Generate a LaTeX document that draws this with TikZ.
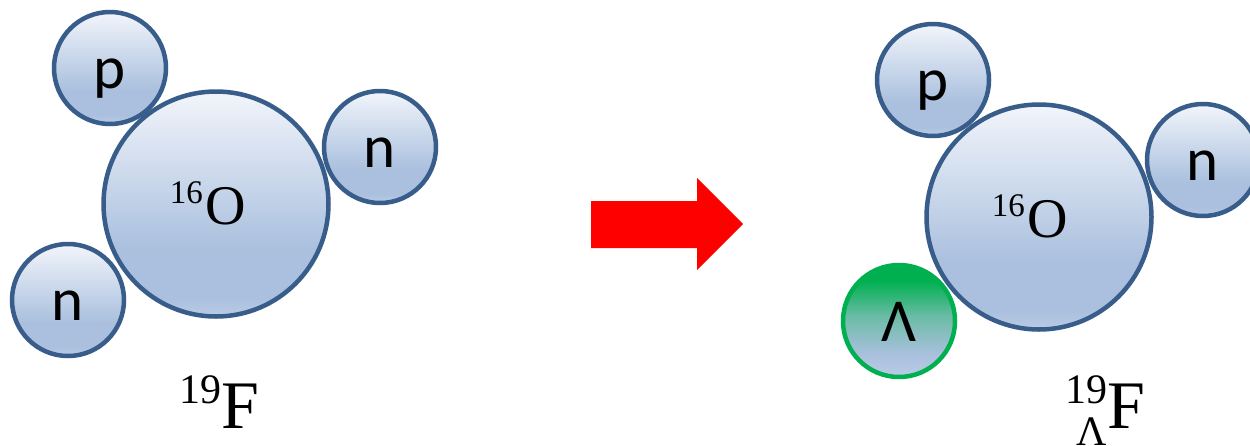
\documentclass[tikz,border=0pt]{standalone}
\usepackage{fontspec}
\setmainfont{Liberation Serif}
\newfontfamily\partfont{Carlito}
\definecolor{edgeblue}{HTML}{385D8A}
\definecolor{btop}{HTML}{F2F5FB}
\definecolor{bmid}{HTML}{CCDAEC}
\definecolor{blow}{HTML}{AAC0DE}
\definecolor{bbot}{HTML}{BACCE5}
\definecolor{lgreen}{HTML}{00B050}
\definecolor{gmid}{HTML}{6CBCA6}
\definecolor{arrowred}{HTML}{FF0000}
\pgfdeclareverticalshading{nucshade}{100bp}{color(0bp)=(bbot); color(25bp)=(bbot); color(29bp)=(blow); color(40bp)=(blow); color(75bp)=(btop); color(100bp)=(btop)}
\pgfdeclareverticalshading{lamshade}{100bp}{color(0bp)=(bbot); color(25bp)=(bbot); color(35bp)=(blow); color(52bp)=(gmid); color(68bp)=(lgreen); color(100bp)=(lgreen)}
\newcommand\prescr[2]{\setbox0=\hbox{#1}\rlap{\raisebox{25pt}{\copy0}}\hbox to \wd0{\hss\raisebox{-17pt}{#2}}}
\begin{document}
\begin{tikzpicture}[x=1pt,y=-1pt,
  nucleon/.style={circle, draw=edgeblue, line width=4.5pt, shading=nucshade, inner sep=0pt,
    minimum size=112pt, font=\partfont\fontsize{61}{61}\selectfont, text height=41pt, text depth=0pt},
  lambda/.style={nucleon, draw=lgreen, shading=lamshade},
  core/.style={nucleon, minimum size=225pt, font=\fontsize{56}{56}\selectfont},
  isolabel/.style={anchor=base, font=\fontsize{68}{68}\selectfont}]
\useasboundingbox (0,0) rectangle (1250,445);
\fill[white] (0,0) rectangle (1250,445);
% left nucleus
\node[core] (coreL) at (216,204) {{\fontsize{33}{33}\selectfont\raisebox{21pt}{16}}\kern3pt O\kern16pt};
\node[nucleon] (pL) at (110,68) {p};
\node[nucleon] (nL1) at (380,147) {n};
\node[nucleon] (nL2) at (68,300) {n};
\node[isolabel] (labL) at (219,428) {{\fontsize{42}{42}\selectfont\raisebox{25pt}{19}}F};
% arrow
\fill[arrowred] (591,201) -- (697,201) -- (697,178) -- (743,224) -- (697,270) -- (697,248) -- (591,248) -- cycle;
% right nucleus
\node[core] (coreR) at (1039,217) {{\fontsize{33}{33}\selectfont\raisebox{21pt}{16}}\kern3pt O\kern18pt};
\node[nucleon] (pR) at (933,80) {p};
\node[nucleon] (nR) at (1203,160) {n};
\node[lambda] (lam) at (899,321) {Λ};
\node[isolabel] (labR) at (1105,428) {{\fontsize{42}{42}\selectfont\prescr{19}{Λ}}F};
\end{tikzpicture}
\end{document}
